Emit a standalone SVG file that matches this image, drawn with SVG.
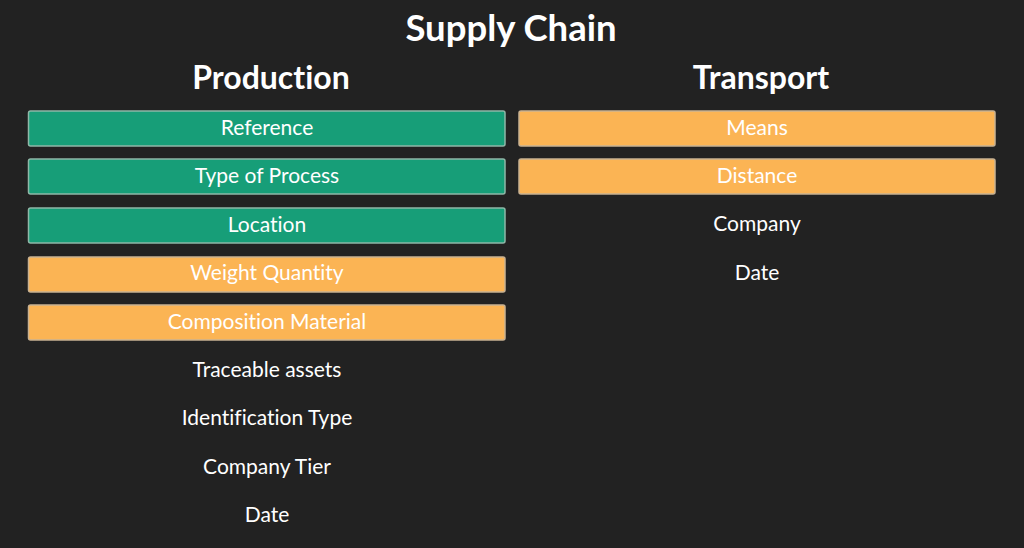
<svg xmlns="http://www.w3.org/2000/svg" width="1024" height="548" viewBox="0 0 1024 548">
<style>
text{font-family:Lato,"Noto Sans","Liberation Sans",sans-serif;fill:#ffffff;text-anchor:middle;font-variant-ligatures:none;font-feature-settings:"liga" 0,"clig" 0}
.title{font-size:36.5px;font-weight:bold}
.head{font-size:32px;font-weight:bold}
.lbl{font-size:21px}
.g{fill:#179e78;stroke:#8fb8a8;stroke-width:1.5}
.o{fill:#fbb454;stroke:#c9b292;stroke-width:1.5}
</style>
<rect x="0" y="0" width="1024" height="548" fill="#222222"/>
<text class="title" x="511" y="41">Supply Chain</text>
<text class="head" x="271" y="89">Production</text>
<text class="head" x="761" y="89">Transport</text>
<g id="connectors"/>
<g id="p-reference"><rect class="g" x="28.5" y="111" width="476.5" height="35" rx="2"/><text class="lbl" x="267" y="135">Reference</text></g>
<g id="p-type"><rect class="g" x="28.5" y="159" width="476.5" height="35" rx="2"/><text class="lbl" x="267" y="183">Type of Process</text></g>
<g id="p-location"><rect class="g" x="28.5" y="208" width="476.5" height="35" rx="2"/><text class="lbl" x="267" y="232">Location</text></g>
<g id="p-weight"><rect class="o" x="28.5" y="257" width="476.5" height="35" rx="2"/><text class="lbl" x="267" y="280">Weight Quantity</text></g>
<g id="p-composition"><rect class="o" x="28.5" y="305" width="476.5" height="35" rx="2"/><text class="lbl" x="267" y="329">Composition Material</text></g>
<g id="p-traceable"><text class="lbl" x="267" y="377">Traceable assets</text></g>
<g id="p-identification"><text class="lbl" x="267" y="425">Identification Type</text></g>
<g id="p-tier"><text class="lbl" x="267" y="474">Company Tier</text></g>
<g id="p-date"><text class="lbl" x="267" y="522">Date</text></g>
<g id="t-means"><rect class="o" x="519" y="111" width="476" height="35" rx="2"/><text class="lbl" x="757" y="135">Means</text></g>
<g id="t-distance"><rect class="o" x="519" y="159" width="476" height="35" rx="2"/><text class="lbl" x="757" y="183">Distance</text></g>
<g id="t-company"><text class="lbl" x="757" y="231">Company</text></g>
<g id="t-date"><text class="lbl" x="757" y="280">Date</text></g>
</svg>
